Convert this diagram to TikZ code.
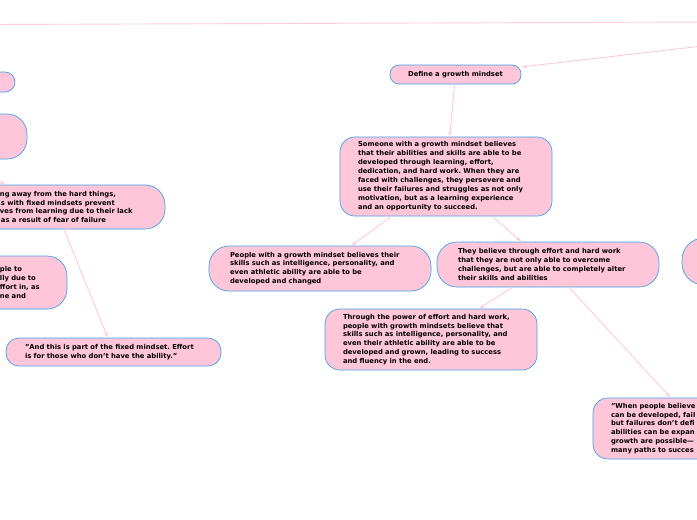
\documentclass[tikz,border=0pt]{standalone}
\usepackage{fontspec}
\setmainfont{DejaVu Sans}
\usepackage{tikz}
\usetikzlibrary{shapes,arrows}
\definecolor{bubblepink}{RGB}{255,198,218}
\definecolor{bubbleblue}{RGB}{66,160,230}
\definecolor{linkpink}{RGB}{255,200,225}
\frenchspacing

\begin{document}
\begin{tikzpicture}[x=1pt, y=-1pt, font=\bfseries\fontsize{6.8}{8.8}\selectfont]
        % Styles
        \tikzstyle{bubble} = [rectangle, draw=bubbleblue, fill=bubblepink, line width=0.7pt, rounded corners=15pt, inner ysep=3pt]
        \tikzstyle{para} = [bubble, text width=176pt, align=left, inner xsep=18pt]
        \tikzstyle{link} = [draw=linkpink, line width=0.9pt]
        \tikzstyle{line} = [link, -latex']

        \useasboundingbox (0,0) rectangle (697,520);
        \clip (0,0) rectangle (697,520);

        % Free ends
        \coordinate (topl) at (-10,24.5);
        \coordinate (topr) at (710,22);
        \coordinate (rootin) at (720,44);
        \coordinate (leftin) at (-18,174);

        % Nodes
        \node [bubble, minimum width=131pt, minimum height=19pt, rounded corners=9pt, inner xsep=0pt] (define) at (455.5,74.5) {Define a growth mindset};
        \node [para, minimum height=79pt, font=\bfseries\fontsize{6.8}{9}\selectfont] (someone) at (446,176.5) {Someone with a growth mindset believes\\ that their abilities and skills are able to be\\ developed through learning, effort,\\ dedication, and hard work. When they are\\ faced with challenges, they persevere and\\ use their failures and struggles as not only\\ motivation, but as a learning experience\\ and an opportunity to succeed.};
        \node [para, text width=180pt, inner xsep=21pt, minimum height=45pt, rounded corners=20pt] (people) at (320,268.5) {People with a growth mindset believes their\\ skills such as intelligence, personality, and\\ even athletic ability are able to be\\ developed and changed};
        \node [para, text width=180pt, inner xsep=21pt, minimum height=45pt, rounded corners=20pt] (they) at (548,264.5) {They believe through effort and hard work\\ that they are not only able to overcome\\ challenges, but are able to completely alter\\ their skills and abilities};
        \node [para, minimum height=61pt] (through) at (431,339.5) {Through the power of effort and hard work,\\ people with growth mindsets believe that\\ skills such as intelligence, personality, and\\ even their athletic ability are able to be\\ developed and grown, leading to success\\ and fluency in the end.};
        \node [para, minimum height=61pt] (when) at (699,428.5) {"When people believe\\ can be developed, fail\\ but failures don't defi\\ abilities can be expan\\ growth are possible—\\ many paths to succes};
        \node [bubble, minimum width=118pt, minimum height=47pt, rounded corners=22pt, inner sep=0pt] (rightend) at (741,261.5) {};

        \node [bubble, minimum width=115pt, minimum height=20pt, rounded corners=10pt, inner sep=0pt] (lefttop) at (-42.5,82) {};
        \node [bubble, minimum width=127pt, minimum height=45pt, rounded corners=20pt, inner sep=0pt] (leftmid) at (-36.5,136.5) {};
        \node [para, text width=180pt, inner xsep=20pt, minimum height=44pt, rounded corners=20pt] (shying) at (55,207) {\hspace*{35pt}ng away from the hard things,\\ \hspace*{36pt}s with fixed mindsets prevent\\ \hspace*{35pt}ves from learning due to their lack\\ \hspace*{36pt}as a result of fear of failure};
        \node [para, text width=107pt, inner xsep=20pt, minimum height=53pt, rounded corners=20pt] (ableto) at (-6.5,282.5) {\hspace*{60pt}ple to\\ \hspace*{60pt}lly due to\\ \hspace*{60pt}ffort in, as\\ \hspace*{60pt}ne and};
        \node [para, text width=177pt, inner xsep=19pt, minimum height=28pt, rounded corners=13pt] (fixedq) at (113.5,352) {"And this is part of the fixed mindset. Effort\\ is for those who don't have the ability."};

        % Edges
        \path [link] (topl) -- (topr);
        \path [line] (rootin) -- (define);
        \path [line] (define) -- (someone);
        \path [line] (someone) -- (people);
        \path [line] (someone) -- (they);
        \path [line] (they) -- (through);
        \path [line] (they) -- (when);
        \path [line] (leftin) -- (shying);
        \path [line] (shying) -- (fixedq);
\end{tikzpicture}
\end{document}
